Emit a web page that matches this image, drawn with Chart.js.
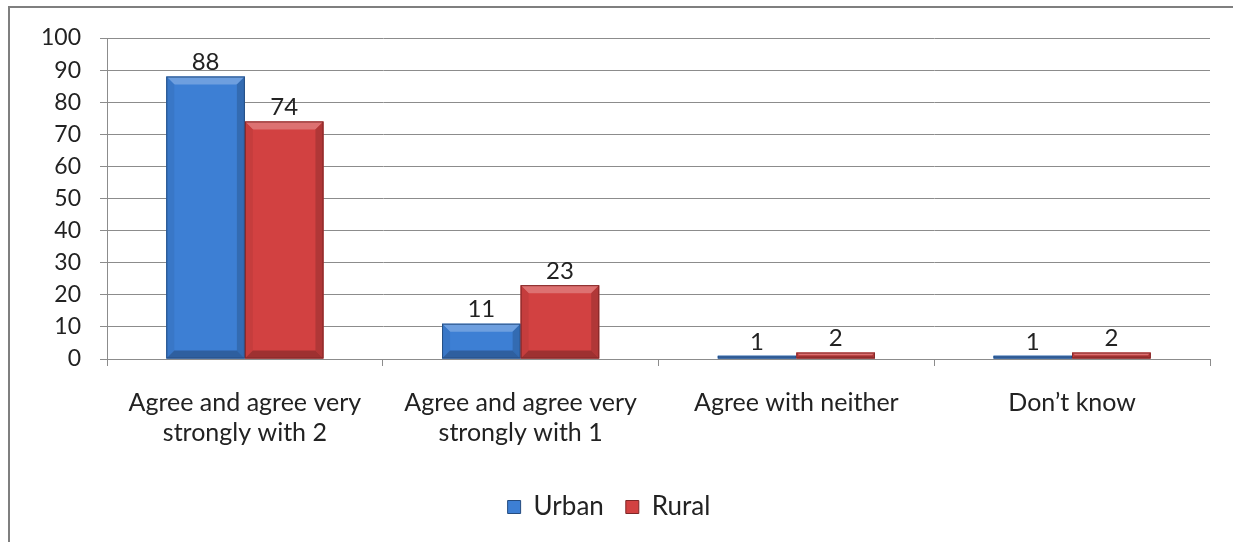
<!DOCTYPE html>
<html>
<head>
<meta charset="utf-8">
<script src="https://cdn.jsdelivr.net/npm/chart.js@4.4.0/dist/chart.umd.min.js"></script>
<style>
  html, body { margin: 0; padding: 0; background: #fff; }
  #wrap { position: relative; width: 1233px; height: 542px; }
</style>
</head>
<body>
<div id="wrap"><canvas id="c" width="1233" height="542"></canvas></div>
<script>
const categories = [["Agree and agree very", "strongly with 2"], ["Agree and agree very", "strongly with 1"], "Agree with neither", "Don\u2019t know"];
const urbanValues = [88, 11, 1, 1];
const ruralValues = [74, 23, 2, 2];
const yTicks = [0, 10, 20, 30, 40, 50, 60, 70, 80, 90, 100];

const FONT = "Lato, 'Open Sans', sans-serif";

function shade(hex, amt) {
  const n = parseInt(hex.slice(1), 16);
  let r = (n >> 16) & 255, g = (n >> 8) & 255, b = n & 255;
  const f = v => Math.max(0, Math.min(255, Math.round(amt >= 0 ? v + (255 - v) * amt : v * (1 + amt))));
  return `rgb(${f(r)},${f(g)},${f(b)})`;
}

const bevelPlugin = {
  id: 'bevel',
  afterDatasetsDraw(chart) {
    const ctx = chart.ctx;
    chart.data.datasets.forEach((ds, di) => {
      const meta = chart.getDatasetMeta(di);
      const base = ds.baseColorHex;
      meta.data.forEach(el => {
        const w = el.width;
        const x0 = el.x - w / 2, x1 = el.x + w / 2;
        const y0 = Math.min(el.y, el.base), y1 = Math.max(el.y, el.base);
        const h = y1 - y0;
        if (h <= 0) return;
        const b = Math.min(8, h / 2, w / 2);
        ctx.save();
        ctx.fillStyle = shade(base, 0.25);
        ctx.beginPath();
        ctx.moveTo(x0, y0); ctx.lineTo(x1, y0); ctx.lineTo(x1 - b, y0 + b); ctx.lineTo(x0 + b, y0 + b); ctx.closePath(); ctx.fill();
        ctx.fillStyle = shade(base, -0.06);
        ctx.beginPath();
        ctx.moveTo(x0, y0); ctx.lineTo(x0 + b, y0 + b); ctx.lineTo(x0 + b, y1 - b); ctx.lineTo(x0, y1); ctx.closePath(); ctx.fill();
        ctx.fillStyle = shade(base, -0.16);
        ctx.beginPath();
        ctx.moveTo(x1, y0); ctx.lineTo(x1 - b, y0 + b); ctx.lineTo(x1 - b, y1 - b); ctx.lineTo(x1, y1); ctx.closePath(); ctx.fill();
        ctx.fillStyle = shade(base, -0.25);
        ctx.beginPath();
        ctx.moveTo(x0, y1); ctx.lineTo(x1, y1); ctx.lineTo(x1 - b, y1 - b); ctx.lineTo(x0 + b, y1 - b); ctx.closePath(); ctx.fill();
        ctx.strokeStyle = shade(base, -0.38);
        ctx.lineWidth = 1;
        ctx.strokeRect(x0 + 0.5, y0 + 0.5, w - 1, h - 1);
        ctx.restore();
      });
    });
  }
};

const labelPlugin = {
  id: 'valueLabels',
  afterDatasetsDraw(chart) {
    const ctx = chart.ctx;
    ctx.save();
    ctx.font = "24px " + FONT;
    ctx.fillStyle = '#222';
    ctx.textAlign = 'center';
    ctx.textBaseline = 'middle';
    chart.data.datasets.forEach((ds, di) => {
      const meta = chart.getDatasetMeta(di);
      meta.data.forEach((el, i) => {
        ctx.fillText(String(ds.data[i]), el.x, el.y - 14);
      });
    });
    ctx.restore();
  }
};

const framePlugin = {
  id: 'frame',
  beforeDraw(chart) {
    const ctx = chart.ctx;
    ctx.save();
    ctx.fillStyle = '#fff';
    ctx.fillRect(0, 0, chart.width, chart.height);
    ctx.strokeStyle = '#7f7f7f';
    ctx.lineWidth = 2;
    ctx.beginPath();
    ctx.moveTo(9, chart.height);
    ctx.lineTo(9, 7);
    ctx.lineTo(chart.width, 7);
    ctx.stroke();
    ctx.restore();
  }
};

const blue = '#3d7fd4';
const red = '#d24141';

new Chart(document.getElementById('c'), {
  type: 'bar',
  data: {
    labels: categories,
    datasets: [
      { label: 'Urban', data: urbanValues, backgroundColor: blue, baseColorHex: blue, borderWidth: 0,
        categoryPercentage: 0.57, barPercentage: 1.0 },
      { label: 'Rural', data: ruralValues, backgroundColor: red, baseColorHex: red, borderWidth: 0,
        categoryPercentage: 0.57, barPercentage: 1.0 }
    ]
  },
  options: {
    responsive: false,
    animation: false,
    devicePixelRatio: 1,
    layout: { padding: { left: 8, right: 23, top: 38, bottom: 12 } },
    plugins: {
      legend: {
        position: 'bottom',
        labels: {
          font: { family: FONT, size: 26 },
          color: '#222',
          boxWidth: 13, boxHeight: 13,
          padding: 22,
          generateLabels(chart) {
            return chart.data.datasets.map((ds, i) => ({
              text: ds.label, fillStyle: ds.backgroundColor, strokeStyle: shade(ds.baseColorHex, -0.4),
              lineWidth: 1, datasetIndex: i, fontColor: '#222'
            }));
          }
        }
      },
      tooltip: { enabled: false }
    },
    scales: {
      x: {
        grid: { display: true, drawOnChartArea: false, drawTicks: true, tickLength: 7, color: '#8c8c8c', offset: true },
        border: { color: '#8c8c8c' },
        ticks: { font: { family: FONT, size: 25, lineHeight: 1.2 }, color: '#222', padding: 22, maxRotation: 0, autoSkip: false },
        afterFit(scale) { scale.height = 113; }
      },
      y: {
        min: 0, max: 100,
        afterBuildTicks(scale) { scale.ticks = yTicks.map(v => ({ value: v })); },
        grid: { color: '#8c8c8c', tickLength: 7 },
        border: { color: '#8c8c8c' },
        ticks: { font: { family: FONT, size: 23 }, color: '#222', padding: 19 },
        afterFit(scale) { scale.width = 99; }
      }
    }
  },
  plugins: [framePlugin, bevelPlugin, labelPlugin]
});
</script>
</body>
</html>
